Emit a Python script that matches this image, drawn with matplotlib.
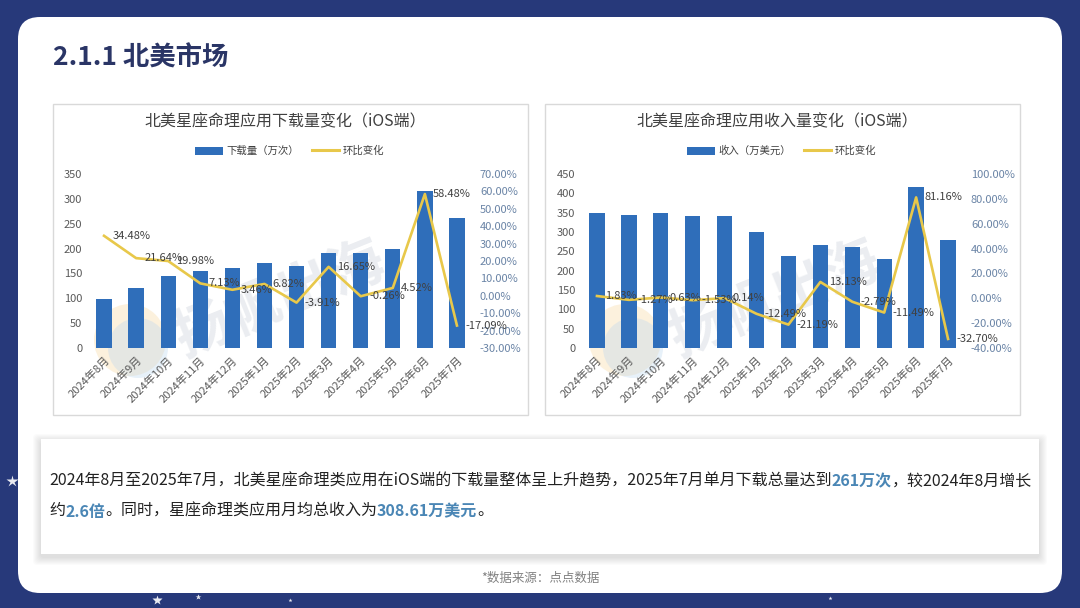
import matplotlib
matplotlib.use("Agg")
import matplotlib.pyplot as plt
from matplotlib.patches import FancyBboxPatch, Rectangle, Circle
from matplotlib.lines import Line2D

plt.rcParams['font.family'] = ['Noto Sans CJK SC', 'DejaVu Sans']

months = ["2024年8月", "2024年9月", "2024年10月", "2024年11月", "2024年12月", "2025年1月",
          "2025年2月", "2025年3月", "2025年4月", "2025年5月", "2025年6月", "2025年7月"]

downloads = [99, 120, 145, 155, 160, 171, 164, 192, 191, 200, 316, 261]
dl_mom = [34.48, 21.64, 19.98, 7.13, 3.46, 6.82, -3.91, 16.65, -0.26, 4.52, 58.48, -17.09]

revenue = [350, 345, 348, 342, 342, 300, 237, 267, 261, 231, 416, 280]
rev_mom = [1.83, -1.27, 0.63, -1.53, 0.14, -12.49, -21.19, 13.13, -2.79, -11.49, 81.16, -32.70]

NAVY = "#27397a"
BAR = "#2f6eba"
LINE = "#e8c84a"
GREY = "#595959"
PCT = "#6a84a6"
HL = "#4a86b5"

W, H = 1080, 608
fig = plt.figure(figsize=(W / 100, H / 100), dpi=100)
fig.patch.set_facecolor(NAVY)

bg = fig.add_axes([0, 0, 1, 1])
bg.set_xlim(0, W)
bg.set_ylim(H, 0)
bg.axis("off")

# white card
bg.add_patch(FancyBboxPatch((18, 17), 1044, 576, boxstyle="round,pad=0,rounding_size=22",
                            fc="white", ec="none"))

# a few stars on the navy border
stars = [(12, 481, 9), (157, 600, 7), (198, 597, 4), (1052, 352, 4), (830, 598, 3), (290, 600, 3)]
for sx, sy, ss in stars:
    bg.plot(sx, sy, marker="*", ms=ss, color="white", mec="none", alpha=0.9)

bg.text(53, 58, "2.1.1 北美市场", fontsize=19, fontweight="bold", color="#2a3566",
        va="center", ha="left")

# chart panels
for px in (53, 545):
    bg.add_patch(Rectangle((px, 104), 475, 311, fc="white", ec="#d9d9d9", lw=1))

# watermark
for cx in (130, 625):
    bg.add_patch(Circle((cx, 340), 36, fc="#f7d9a0", ec="none", alpha=0.35))
    bg.add_patch(Circle((cx + 8, 348), 30, fc="#bcd7f0", ec="none", alpha=0.35))
    bg.text(cx + 150, 300, "扬帆出海", fontsize=40, color="#9aa6b8", alpha=0.2,
            rotation=22, ha="center", va="center", fontweight="bold")

# text box shadow + box
for i in range(8, 0, -1):
    bg.add_patch(FancyBboxPatch((41 - i, 439 - i + 3), 998 + 2 * i, 115 + 2 * i,
                                boxstyle="round,pad=0,rounding_size=4",
                                fc="#000000", ec="none", alpha=0.014))
bg.add_patch(Rectangle((41, 439), 998, 115, fc="white", ec="none"))


def rainbow(x, y, parts, size=11.5):
    t = bg.text(x, y, parts[0][0], fontsize=size, color=parts[0][1],
                fontweight=parts[0][2], ha="left", va="center")
    for s, c, w in parts[1:]:
        t = bg.annotate(s, xy=(1, 0), xycoords=t, fontsize=size, color=c,
                        fontweight=w, ha="left", va="bottom")


rainbow(49, 481, [
    ("2024年8月至2025年7月，北美星座命理类应用在iOS端的下载量整体呈上升趋势，2025年7月单月下载总量达到", "#222222", "normal"),
    ("261万次", HL, "bold"),
    ("，较2024年8月增长", "#222222", "normal"),
])
rainbow(49, 511, [
    ("约", "#222222", "normal"),
    ("2.6倍", HL, "bold"),
    ("。同时，星座命理类应用月均总收入为", "#222222", "normal"),
    ("308.61万美元", HL, "bold"),
    ("。", "#222222", "normal"),
])

bg.text(540, 578, "*数据来源：点点数据", fontsize=9, color="#808080", ha="center", va="center")


def make_chart(left_px, right_px, bars, mom, ymax, ystep, pmin, pmax, pstep,
               title, title_cx, bar_name, legend_cx):
    ax = fig.add_axes([left_px / W, 1 - 348 / H, (right_px - left_px) / W, 174 / H])
    ax.patch.set_alpha(0)
    x = list(range(len(months)))
    ax.bar(x, bars, width=0.48, color=BAR, zorder=2)
    ax.set_xlim(-0.5, len(months) - 0.5)
    ax.set_ylim(0, ymax)
    ax.set_yticks(range(0, ymax + 1, ystep))
    ax.set_xticks(x)
    ax.set_xticklabels(months, rotation=45, ha="right", va="top", rotation_mode="anchor",
                       fontsize=8, color=GREY)
    ax.tick_params(axis="y", labelsize=8, colors=GREY, length=0, pad=4)
    ax.tick_params(axis="x", length=0, pad=5)
    for s in ax.spines.values():
        s.set_visible(False)

    ax2 = ax.twinx()
    ax2.plot(x, mom, color=LINE, lw=1.9, zorder=3)
    ax2.set_ylim(pmin, pmax)
    ticks = list(range(pmin, pmax + 1, pstep))
    ax2.set_yticks(ticks)
    ax2.set_yticklabels([f"{t:.2f}%" for t in ticks])
    ax2.tick_params(axis="y", labelsize=8, colors=PCT, length=0, pad=5)
    for s in ax2.spines.values():
        s.set_visible(False)
    for xi, v in zip(x, mom):
        ax2.annotate(f"{v:.2f}%", (xi, v), xytext=(6, 0), textcoords="offset points",
                     ha="left", va="center", fontsize=8, color="#404040", zorder=4)

    bg.text(title_cx, 122, title, fontsize=11.5, color="#404040", ha="center", va="center")
    handles = [Rectangle((0, 0), 1, 1, fc=BAR, ec="none"),
               Line2D([0], [0], color=LINE, lw=2.2)]
    fig.legend(handles, [bar_name, "环比变化"], loc="center", ncol=2, frameon=False,
               bbox_to_anchor=(legend_cx / W, 1 - 151 / H), fontsize=7.5,
               handlelength=2.6, handleheight=0.8, columnspacing=1.2, handletextpad=0.4,
               labelcolor="#404040")


make_chart(88, 473, downloads, dl_mom, 350, 50, -30, 70, 10,
           "北美星座命理应用下载量变化（iOS端）", 285, "下载量（万次）", 290)
make_chart(581, 964, revenue, rev_mom, 450, 50, -40, 100, 20,
           "北美星座命理应用收入量变化（iOS端）", 777, "收入（万美元）", 782)

fig.savefig("out.png", dpi=100, facecolor=NAVY)
